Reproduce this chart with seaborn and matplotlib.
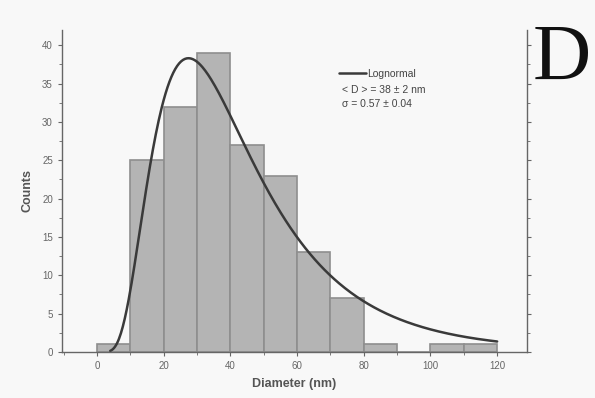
import numpy as np
import pandas as pd
import matplotlib
matplotlib.use("Agg")
import matplotlib.pyplot as plt
import seaborn as sns
from matplotlib.ticker import MultipleLocator

# histogram bins (nm) and counts
bin_edges = [0, 10, 20, 30, 40, 50, 60, 70, 80, 90, 100, 110, 120]
counts = [1, 25, 32, 39, 27, 23, 13, 7, 1, 0, 1, 1]

# lognormal fit parameters from the legend
d_median = 38.0
sigma = 0.57
peak_height = 38.3

sns.set_style("ticks")
plt.rcParams['font.family'] = ['Liberation Sans', 'DejaVu Sans']

fig = plt.figure(figsize=(5.95, 3.98), dpi=100, facecolor='#f8f8f8')
ax = fig.add_axes([0.104, 0.116, 0.782, 0.809])
ax.set_facecolor('#f8f8f8')

centers = [(a + b) / 2 for a, b in zip(bin_edges[:-1], bin_edges[1:])]
hist_df = pd.DataFrame({'Diameter': centers, 'Counts': counts})
sns.histplot(data=hist_df, x='Diameter', weights='Counts', bins=bin_edges,
             color='#b4b4b4', edgecolor='#8e8e8e', linewidth=1.2, alpha=1, ax=ax)

# fitted lognormal curve
x = np.linspace(4, 120, 400)
pdf = np.exp(-(np.log(x / d_median)) ** 2 / (2 * sigma ** 2)) / x
pdf = pdf / pdf.max() * peak_height
sns.lineplot(x=x, y=pdf, color='#3a3a3a', linewidth=1.8, ax=ax, label='Lognormal')

ax.set_xlim(-10.5, 129)
ax.set_ylim(0, 42)
ax.xaxis.set_major_locator(MultipleLocator(20))
ax.xaxis.set_minor_locator(MultipleLocator(10))
ax.yaxis.set_major_locator(MultipleLocator(5))
ax.yaxis.set_minor_locator(MultipleLocator(2.5))
ax.tick_params(axis='both', which='major', labelsize=7, colors='#666666',
               length=3, width=0.8, direction='out')
ax.tick_params(axis='both', which='minor', colors='#666666', length=2, width=0.6,
               direction='out')
ax.tick_params(axis='y', right=True, which='both')
ax.tick_params(axis='y', labelright=False)

for side in ['left', 'bottom', 'right']:
    ax.spines[side].set_color('#666666')
    ax.spines[side].set_linewidth(1.0)
ax.spines['top'].set_visible(False)

ax.set_xlabel('Diameter (nm)', fontsize=9, color='#555555', fontweight='bold',
              labelpad=5)
ax.set_ylabel('Counts', fontsize=9, color='#555555', fontweight='bold', labelpad=6)

leg = ax.legend(loc='center left', bbox_to_anchor=(0.595, 0.863), frameon=False,
                fontsize=7.5, handlelength=2.6, handletextpad=0.15,
                borderaxespad=0, borderpad=0)
for t in leg.get_texts():
    t.set_color('#444444')
ax.text(0.602, 0.814, '< D > = 38 \u00b1 2 nm', transform=ax.transAxes,
        fontsize=7.5, color='#444444', va='center')
ax.text(0.602, 0.770, '\u03c3 = 0.57 \u00b1 0.04', transform=ax.transAxes,
        fontsize=7.5, color='#444444', va='center')

fig.text(0.895, 0.80, 'D', fontsize=58, family='Liberation Serif', color='#111111')

fig.savefig('out.png', dpi=100, facecolor=fig.get_facecolor())
